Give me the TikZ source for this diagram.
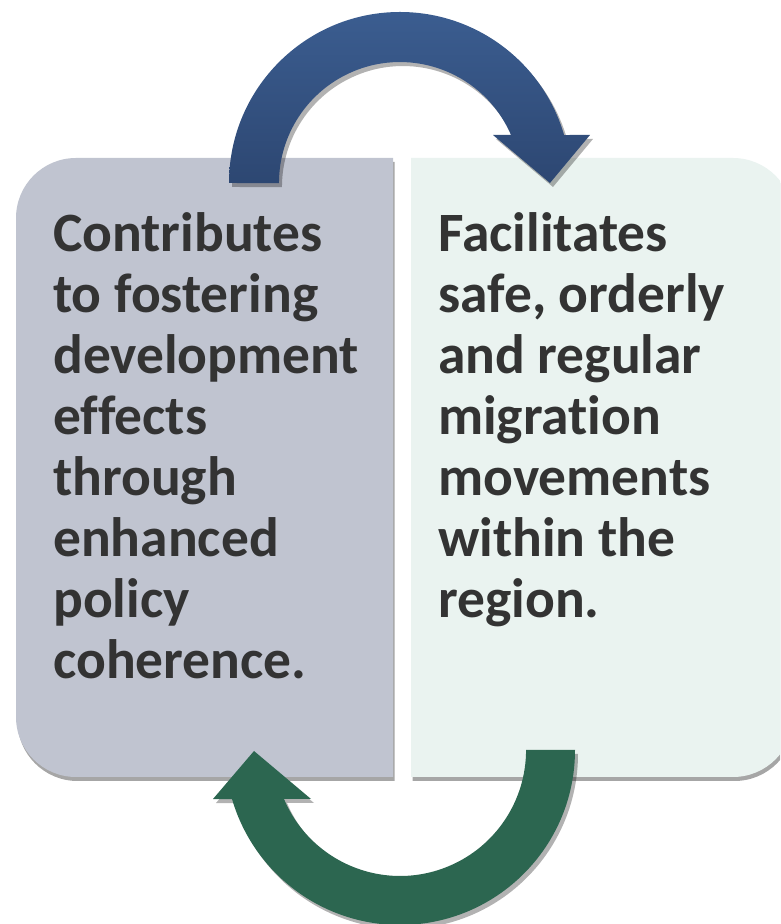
\documentclass[tikz,border=0pt]{standalone}
\usepackage{fontspec}
\setmainfont{Carlito}[Ligatures=NoCommon]
\usetikzlibrary{shadows}

\definecolor{leftpanel}{RGB}{192,196,208}
\definecolor{rightpanel}{RGB}{234,243,240}
\definecolor{cycleblue}{RGB}{59,93,144}
\definecolor{cyclebluedark}{RGB}{45,71,114}
\definecolor{cyclegreen}{RGB}{44,102,80}
\definecolor{panelink}{RGB}{51,51,51}

\tikzset{
  panel/.style={drop shadow={shadow xshift=1.5pt, shadow yshift=-4pt, opacity=0.35, fill=black}},
  cyclearrow/.style={drop shadow={shadow xshift=3pt, shadow yshift=-4pt, opacity=0.3, fill=black}},
  paneltext/.style={anchor=base west, inner sep=0pt, text=panelink, font=\bfseries\fontsize{55.5}{61}\selectfont},
}

\begin{document}
\begin{tikzpicture}[x=1pt,y=1pt]
\useasboundingbox (0,0) rectangle (780,924);
\clip (0,0) rectangle (780,924);

% Panels
  \path[panel, fill=leftpanel] (393,147) -- (76,147)
    arc[start angle=270, end angle=180, radius=60pt] -- (16,706)
    arc[start angle=180, end angle=90, radius=60pt] -- (393,766) -- cycle;
  \path[panel, fill=rightpanel] (411,147) -- (733,147)
    arc[start angle=270, end angle=360, radius=60pt] -- (793,706)
    arc[start angle=0, end angle=90, radius=60pt] -- (411,766) -- cycle;

% Arrows
  \path[cyclearrow, top color=cycleblue, bottom color=cyclebluedark] (229,741)
    arc[start angle=180, end angle=16.3, radius=171pt]
    -- (590,789) -- (550,741) -- (493,789) -- (511,789)
    arc[start angle=23.4, end angle=180, radius=121pt] -- cycle;
  \path[cyclearrow, fill=cyclegreen] (575,174)
    arc[start angle=0, end angle=-163.7, radius=175pt]
    -- (213,125) -- (254,173) -- (311,125) -- (284,125)
    arc[start angle=-157.1, end angle=0, radius=126pt] -- cycle;

% Texts
  \node[paneltext] (coherence) at (53,672) {\parbox[t]{330pt}{Contributes\\ to fostering\\ development\\ effects\\ through\\ enhanced\\ policy\\ coherence.}};
  \node[paneltext] (migration) at (438,672) {\parbox[t]{340pt}{Facilitates\\ safe, orderly\\ and regular\\ migration\\ movements\\ within the\\ region.}};

\end{tikzpicture}
\end{document}
